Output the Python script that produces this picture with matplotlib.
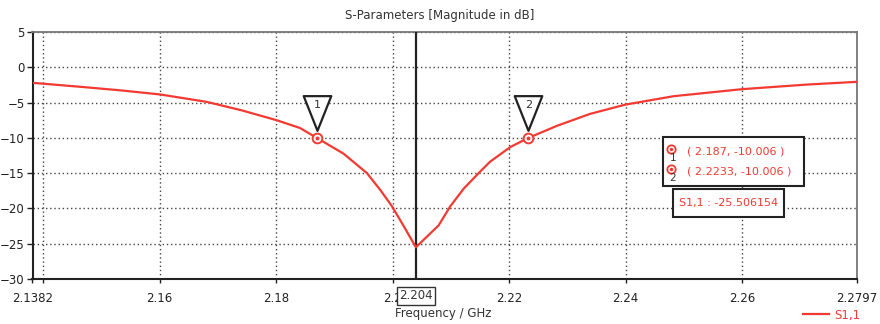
import numpy as np
import matplotlib
matplotlib.use("Agg")
import matplotlib.pyplot as plt
from matplotlib.patches import Rectangle
from matplotlib.lines import Line2D
from matplotlib.path import Path
from matplotlib import transforms

# S1,1 magnitude (dB) vs frequency (GHz)
freq = [2.1382, 2.1469, 2.1537, 2.1601, 2.1681, 2.1741, 2.1801, 2.1841, 2.187,
        2.1916, 2.1956, 2.1979, 2.1999, 2.2019, 2.204, 2.2079, 2.2099, 2.2122,
        2.2150, 2.2167, 2.2202, 2.2233, 2.2282, 2.2339, 2.2399, 2.2482, 2.2600,
        2.2711, 2.2797]
s11 = [-2.2, -2.8, -3.3, -3.85, -4.9, -6.1, -7.5, -8.6, -10.006,
       -12.25, -15.0, -17.4, -19.7, -22.5, -25.506154, -22.4, -19.7, -17.2,
       -14.8, -13.4, -11.3, -10.006, -8.3, -6.6, -5.3, -4.1, -3.1,
       -2.45, -2.06]

marker_ids = ["1", "2"]
marker_freq = [2.187, 2.2233]
marker_val = [-10.006, -10.006]
cursor_freq = 2.204

xtick_pos = [2.1382, 2.16, 2.18, 2.2, 2.22, 2.24, 2.26, 2.2797]
xtick_lbl = ["2.1382", "2.16", "2.18", "2.2", "2.22", "2.24", "2.26", "2.2797"]
xgrid_extra = [2.14]
yticks = [5, 0, -5, -10, -15, -20, -25, -30]

RED = "#f23a32"
TXT = "#333333"
W, H = 880, 324

fig = plt.figure(figsize=(W / 100, H / 100), dpi=100)
ax = fig.add_axes([32.5 / W, 45 / H, (857 - 32.5) / W, (279 - 32) / H])

ax.plot(freq, s11, color=RED, lw=1.6, zorder=4)
ax.set_xlim(xtick_pos[0], xtick_pos[-1])
ax.set_ylim(-30, 5)

ax.set_xticks(xtick_pos)
ax.set_xticklabels(xtick_lbl)
ax.set_xticks(xgrid_extra, minor=True)
ax.set_yticks(yticks)
grid_kw = dict(color="#444444", lw=1.0, linestyle=(0, (1, 2)))
ax.grid(True, which="both", **grid_kw)
ax.tick_params(axis="both", which="both", direction="out", length=4, width=1,
               colors="#222222", labelsize=8.5, pad=1.5)
ax.tick_params(axis="x", which="both", length=3, pad=6)

for s in ["left", "bottom"]:
    ax.spines[s].set_linewidth(1.5)
    ax.spines[s].set_color("#222222")
for s in ["top", "right"]:
    ax.spines[s].set_linewidth(1.3)
    ax.spines[s].set_color("#777777")

# cursor line and its readout on the x axis
ax.axvline(cursor_freq, color="#222222", lw=1.6, zorder=3)
ax.annotate(f"{cursor_freq:.3f}", xy=(cursor_freq, 0), xycoords=("data", "axes fraction"),
            xytext=(0, -12), textcoords="offset points", ha="center", va="center",
            fontsize=8.5, color=TXT, zorder=10, annotation_clip=False,
            bbox=dict(boxstyle="square,pad=0.2", fc="white", ec="#333333", lw=1.0))

# markers on the curve with their flag triangles
tri_verts = [(-13.5, 17), (13.5, 17), (0, -17), (-13.5, 17)]
tri = Path(tri_verts, closed=True)
flag_tr = transforms.offset_copy(ax.transData, fig=fig, x=0, y=25, units="dots")
num_tr = transforms.offset_copy(ax.transData, fig=fig, x=0, y=33, units="dots")
for mid, mf, mv in zip(marker_ids, marker_freq, marker_val):
    ax.plot(mf, mv, marker=tri, ms=25, mfc="white", mec="#222222", mew=1.6,
            transform=flag_tr, zorder=6, clip_on=False)
    ax.text(mf, mv, mid, transform=num_tr, ha="center", va="center",
            fontsize=8, color=TXT, zorder=8)
    ax.plot(mf, mv, marker="o", ms=7, mfc="white", mec=RED, mew=1.4, zorder=7)
    ax.plot(mf, mv, marker="o", ms=1.8, color=RED, zorder=8)

# marker readout box
fig.patches.append(Rectangle((663 / W, 1 - 186 / H), (804 - 663) / W, (186 - 137) / H,
                             transform=fig.transFigure, fc="white", ec="#222222", lw=1.5,
                             zorder=5))
for i, (mid, mf, mv) in enumerate(zip(marker_ids, marker_freq, marker_val)):
    yc = 1 - (151 + 20 * i) / H
    fig.text(687 / W, yc, f"( {mf:g}, {mv:.3f} )", ha="left", va="center",
             fontsize=8, color=RED, zorder=6)
    yi = 1 - (149 + 20 * i) / H
    fig.lines.append(Line2D([671 / W], [yi], marker="o", ms=6, mfc="white", mec=RED,
                            mew=1.3, transform=fig.transFigure, zorder=6))
    fig.lines.append(Line2D([671 / W], [yi], marker="o", ms=1.5, color=RED,
                            transform=fig.transFigure, zorder=7))
    fig.text(673 / W, 1 - (158 + 20 * i) / H, mid, ha="center", va="center",
             fontsize=7.5, color=TXT, zorder=6)

# minimum readout box
fig.patches.append(Rectangle((673 / W, 1 - 217 / H), (784 - 673) / W, (217 - 189) / H,
                             transform=fig.transFigure, fc="white", ec="#222222", lw=1.5,
                             zorder=5))
fig.text(728.5 / W, 1 - 203 / H, f"S1,1 : {min(s11):.6f}", ha="center", va="center",
         fontsize=8, color=RED, zorder=6)

fig.text(440 / W, 1 - 15 / H, "S-Parameters [Magnitude in dB]", ha="center",
         va="center", fontsize=8.5, color=TXT)
fig.text(443 / W, 1 - 314 / H, "Frequency / GHz", ha="center", va="center",
         fontsize=8.5, color=TXT)

ax.legend(["S1,1"], loc="center right", bbox_to_anchor=(866 / W, 1 - 315 / H),
          bbox_transform=fig.transFigure, frameon=False, fontsize=8.5,
          handlelength=2.2, handletextpad=0.4, borderpad=0, labelcolor=RED)

fig.savefig("out.png", dpi=100)
